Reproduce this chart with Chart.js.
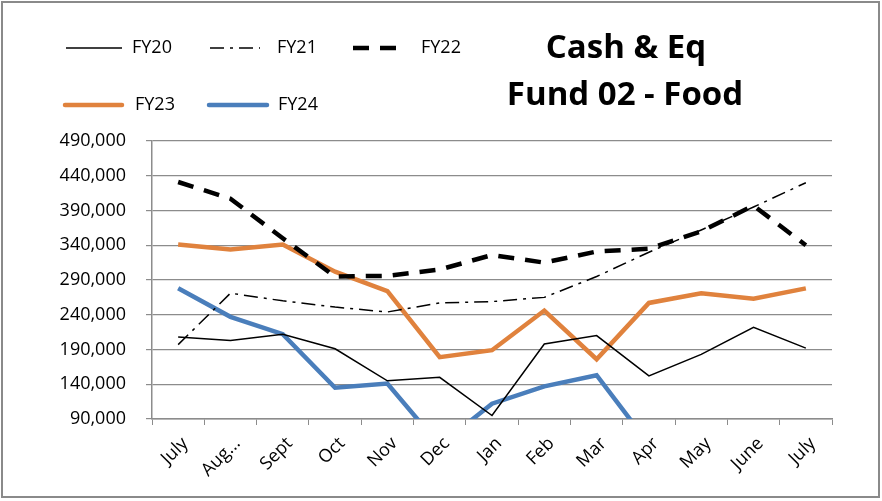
<!DOCTYPE html>
<html>
<head>
<meta charset="utf-8">
<title>Cash & Eq Fund 02 - Food</title>
<script src="https://cdn.jsdelivr.net/npm/chart.js@4.4.0/dist/chart.umd.min.js"></script>
<style>
    html, body { margin: 0; padding: 0; background: #fff; }
    #wrap { width: 882px; height: 501px; position: relative; }
</style>
</head>
<body>
<div id="wrap"><canvas id="cashChart" width="882" height="501"></canvas></div>
<script>
// ========================================
// Data
// ========================================
const months = ['July', 'Aug...', 'Sept', 'Oct', 'Nov', 'Dec', 'Jan', 'Feb', 'Mar', 'Apr', 'May', 'June', 'July'];

const fy20 = [208000, 203000, 212000, 191000, 145000, 150000, 95000, 198000, 210000, 152000, 183000, 222000, 192000];
const fy21 = [197000, 271000, 260000, 251000, 244000, 257000, 259000, 265000, 295000, 330000, 362000, 395000, 430000];
const fy22 = [431000, 407000, 350000, 295000, 296000, 305000, 326000, 315000, 331000, 335000, 360000, 397000, 340000];
const fy23 = [341000, 334000, 341000, 302000, 274000, 179000, 189000, 246000, 176000, 257000, 271000, 263000, 278000];
const fy24 = [278000, 237000, 212000, 135000, 141000, 52000, 112000, 137000, 153000, 54000, null, null, null];

const yMin = 90000;
const yMax = 490000;
const yStep = 50000;

const titleLines = ['Cash & Eq', 'Fund 02 - Food'];

const FONT = "'Open Sans', sans-serif";
const GRID = '#8c8c8c';

// ========================================
// Legend + title + border (drawn by hand, Excel style)
// ========================================
const legendPos = [
    { x: 66, y: 48, w: 56, tx: 132 },
    { x: 210, y: 48, w: 50, tx: 277 },
    { x: 353, y: 48, w: 47, tx: 421 },
    { x: 65, y: 105, w: 57, tx: 135 },
    { x: 209, y: 105, w: 58, tx: 278 }
];

const decorPlugin = {
    id: 'decor',
    afterDraw(chart) {
        const ctx = chart.ctx;
        ctx.save();

        // outer border
        ctx.strokeStyle = '#8a8a8a';
        ctx.lineWidth = 2;
        ctx.strokeRect(2, 2, 877, 495);

        // legend
        chart.data.datasets.forEach((ds, i) => {
            const p = legendPos[i];
            ctx.beginPath();
            ctx.strokeStyle = ds.borderColor;
            ctx.lineWidth = ds.borderWidth;
            ctx.setLineDash(ds.borderDash || []);
            ctx.lineCap = ds.legendCap || 'butt';
            ctx.moveTo(p.x, p.y);
            ctx.lineTo(p.x + p.w, p.y);
            ctx.stroke();
            ctx.setLineDash([]);

            ctx.fillStyle = '#000';
            ctx.font = '18px ' + FONT;
            ctx.textAlign = 'left';
            ctx.textBaseline = 'middle';
            ctx.fillText(ds.label, p.tx, p.y);
        });

        // title
        ctx.fillStyle = '#000';
        ctx.font = 'bold 33px ' + FONT;
        ctx.textAlign = 'center';
        ctx.textBaseline = 'middle';
        ctx.fillText(titleLines[0], 626, 49);
        ctx.fillText(titleLines[1], 625, 96);

        ctx.restore();
    }
};

// ========================================
// Chart
// ========================================
document.addEventListener('DOMContentLoaded', function () {
    const el = document.getElementById('cashChart');

    new Chart(el, {
        type: 'line',
        data: {
            labels: months,
            datasets: [
                { label: 'FY20', data: fy20, borderColor: '#000', borderWidth: 1.5 },
                { label: 'FY21', data: fy21, borderColor: '#000', borderWidth: 1.5, borderDash: [14, 6, 3, 6] },
                { label: 'FY22', data: fy22, borderColor: '#000', borderWidth: 4.5, borderDash: [16, 11] },
                { label: 'FY23', data: fy23, borderColor: '#e0823d', borderWidth: 4.5, legendCap: 'round' },
                { label: 'FY24', data: fy24, borderColor: '#4a7ebb', borderWidth: 4.5, legendCap: 'round' }
            ]
        },
        options: {
            responsive: false,
            animation: false,
            spanGaps: false,
            elements: {
                point: { radius: 0, hoverRadius: 0 },
                line: { tension: 0, fill: false }
            },
            layout: { padding: { top: 141, right: 50, bottom: 0, left: 0 } },
            plugins: {
                legend: { display: false },
                title: { display: false },
                tooltip: { enabled: false }
            },
            scales: {
                x: {
                    offset: true,
                    grid: { offset: true, drawOnChartArea: false, drawTicks: true, tickLength: 6, color: GRID },
                    border: { color: GRID, width: 1.5 },
                    ticks: {
                        color: '#000',
                        font: { family: FONT, size: 18 },
                        minRotation: 45,
                        maxRotation: 45,
                        autoSkip: false,
                        padding: 8,
                        labelOffset: 7
                    },
                    afterFit(scale) { scale.height = 82; }
                },
                y: {
                    min: yMin,
                    max: yMax,
                    grid: { color: GRID, tickLength: 6, lineWidth: 1.2 },
                    border: { color: GRID, width: 1.5 },
                    ticks: {
                        stepSize: yStep,
                        color: '#000',
                        padding: 20,
                        font: { family: FONT, size: 18 },
                        callback: v => v.toLocaleString('en-US')
                    },
                    afterFit(scale) { scale.width = 152; }
                }
            }
        },
        plugins: [decorPlugin]
    });
});
</script>
</body>
</html>
